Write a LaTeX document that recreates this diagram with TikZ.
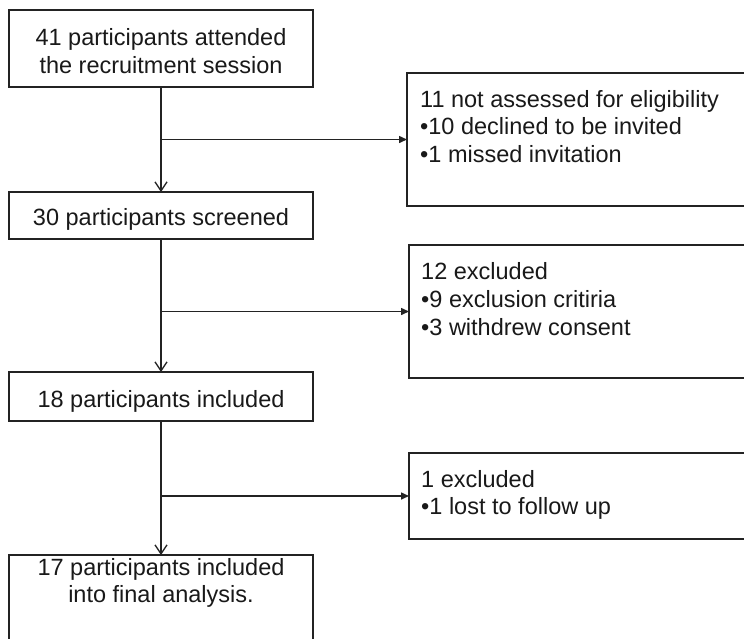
\documentclass[tikz,border=0pt]{standalone}
\usepackage{fontspec}
\setmainfont{Liberation Sans}
\usetikzlibrary{arrows.meta}
\definecolor{ln}{RGB}{35,35,35}
\begin{document}
\begin{tikzpicture}[x=1pt,y=-1pt,
 box/.style={draw=ln, line width=1.6pt, inner sep=0pt, outer sep=0pt},
 txt/.style={font=\fontsize{23.5}{27.5}\selectfont, inner sep=0pt, anchor=base, text=black!90},
 ltxt/.style={txt, anchor=base west},
 vline/.style={draw=ln, line width=1.5pt, -{Straight Barb[length=9pt,width=12pt,line width=1.3pt]}},
 hline/.style={draw=ln, line width=1.5pt, -{Triangle[length=8pt,width=7pt]}}]
\useasboundingbox (0,0) rectangle (744,638);
\fill[white] (0,0) rectangle (744,638);
% left boxes
\node[box, minimum width=304pt, minimum height=77pt] (b1) at (161,48.5) {};
\node[box, minimum width=304pt, minimum height=47pt] (b2) at (161,215.5) {};
\node[box, minimum width=304pt, minimum height=49pt] (b3) at (161,396.5) {};
\node[box, minimum width=304pt, minimum height=95pt] (b4) at (161,602.5) {};
% right boxes
\node[box, minimum width=353pt, minimum height=133pt] (r1) at (583.5,139.5) {};
\node[box, minimum width=351pt, minimum height=133pt] (r2) at (584.5,311.5) {};
\node[box, minimum width=351pt, minimum height=86pt] (r3) at (584.5,496) {};
% texts left
\node[txt] (t1a) at (161,45) {41 participants attended};
\node[txt] (t1b) at (161,73) {the recruitment session};
\node[txt] (t2) at (161,225) {30 participants screened};
\node[txt] (t3) at (161,407) {18 participants included};
\node[txt] (t4a) at (161,575) {17 participants included};
\node[txt] (t4b) at (161,602) {into final analysis.};
% texts right
\node[ltxt] (s1a) at (420,107) {11 not assessed for eligibility};
\node[ltxt] (s1b) at (420,134) {•10 declined to be invited};
\node[ltxt] (s1c) at (420,162) {•1 missed invitation};
\node[ltxt] (s2a) at (421,279) {12 excluded};
\node[ltxt] (s2b) at (421,307) {•9 exclusion critiria};
\node[ltxt] (s2c) at (421,335) {•3 withdrew consent};
\node[ltxt] (s3a) at (421,487) {1 excluded};
\node[ltxt] (s3b) at (421,514) {•1 lost to follow up};
% connectors
\draw[vline] (b1.south) -- (b2.north);
\draw[vline] (b2.south) -- (b3.north);
\draw[vline] (b3.south) -- (b4.north);
\draw[hline] (r1.west -| b1.south) -- (r1.west);
\draw[hline] (r2.west -| b2.south) -- (r2.west);
\draw[hline] (r3.west -| b3.south) -- (r3.west);
\end{tikzpicture}
\end{document}
